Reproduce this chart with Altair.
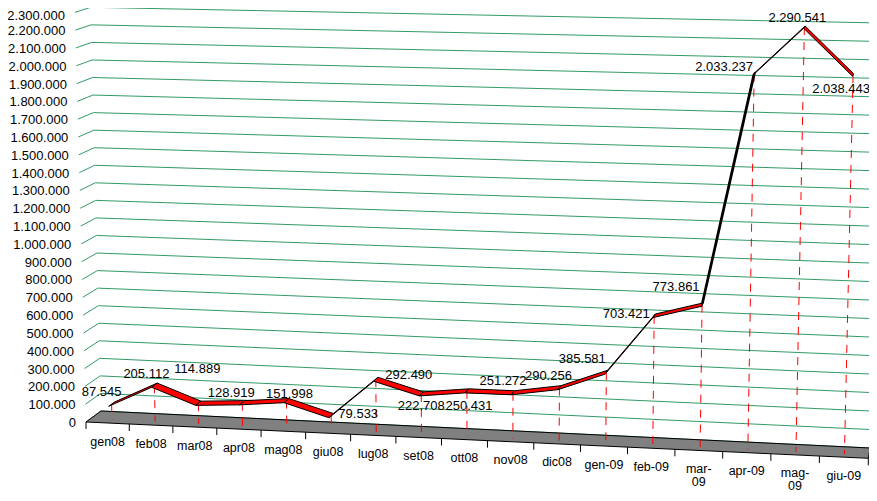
import altair as alt
import pandas as pd

# ---------------- data ----------------
months = ["gen08", "feb08", "mar08", "apr08", "mag08", "giu08", "lug08", "set08",
          "ott08", "nov08", "dic08", "gen-09", "feb-09", "mar-09", "apr-09", "mag-09", "giu-09"]
values = [87545, 205112, 114889, 128919, 151998, 79533, 292490, 222708,
          250431, 251272, 290256, 385581, 703421, 773861, 2033237, 2290541, 2038443]
y_ticks = [0, 100000, 200000, 300000, 400000, 500000, 600000, 700000, 800000, 900000,
           1000000, 1100000, 1200000, 1300000, 1400000, 1500000, 1600000, 1700000,
           1800000, 1900000, 2000000, 2100000, 2200000, 2300000]

# label nudges in pixels (style: where Excel put each data label relative to its point)
label_dx = [-10, -8, -1, -11, 3, 27, 33, 0, 2, -10, -11, -24, -28, -26, -30, -7, -12]
label_dy = [-12, -11, -34, -10, -7, -2, -4, 12, 15, -12, -12, -13, -2, -18, -7, -9, 14]

# ---------------- 3-D camera (style) ----------------
N = len(months)
VMAX = y_ticks[-1]
FRONT_BOT = ((86, 422), (868.3, 458.3))
BACK_BOT = ((101, 411), (870, 448))
BACK_TOP = ((90.7, 7.3), (881, 23))
FRONT_TOP = ((75, 12.3), (878.5, 28.5))
WARP = 0.937
Z_BACK, Z_MID, Z_FRONT = 0.5, 0.7, 0.9

ORIGIN = 8
W, H = 861, 485
X0, PX_PER_CAT = 86.0, 46.02
Y0, PX_PER_VAL = 422.0, 409.7 / VMAX


def project(u, v, z):
    t = u / N
    p = WARP * t / (1 - (1 - WARP) * t)
    w = v / VMAX

    def edge(e):
        (x0, y0), (x1, y1) = e
        return x0 + (x1 - x0) * p, y0 + (y1 - y0) * p

    fb, bb, bt, ft = edge(FRONT_BOT), edge(BACK_BOT), edge(BACK_TOP), edge(FRONT_TOP)
    bot = (bb[0] + (fb[0] - bb[0]) * z, bb[1] + (fb[1] - bb[1]) * z)
    top = (bt[0] + (ft[0] - bt[0]) * z, bt[1] + (ft[1] - bt[1]) * z)
    return bot[0] + (top[0] - bot[0]) * w, bot[1] + (top[1] - bot[1]) * w


def to_units(X, Y):
    return (X - X0) / PX_PER_CAT, (Y0 - Y) / PX_PER_VAL


def pt(u, v, z, dx=0.0, dy=0.0):
    X, Y = project(u, v, z)
    return to_units(X + dx, Y + dy)


xs = alt.Scale(domain=[(ORIGIN - X0) / PX_PER_CAT, (ORIGIN + W - X0) / PX_PER_CAT], nice=False, zero=False)
ys = alt.Scale(domain=[(Y0 - (ORIGIN + H)) / PX_PER_VAL, (Y0 - ORIGIN) / PX_PER_VAL], nice=False, zero=False)
X = lambda f="x": alt.X(f"{f}:Q", scale=xs, axis=None)
Y = lambda f="y": alt.Y(f"{f}:Q", scale=ys, axis=None)

FONT = "Liberation Sans"

# gridlines: side wall segment + back wall
grid_rows = []
for g, v in enumerate(y_ticks):
    for k, (u, z) in enumerate([(0, 1), (0, 0), (N, 0)]):
        x, y = pt(u, v, z)
        grid_rows.append({"g": g, "k": k, "x": x, "y": y})
grid = alt.Chart(pd.DataFrame(grid_rows)).mark_line(color="#339966", strokeWidth=1).encode(
    x=X(), y=Y(), detail="g:N", order="k:Q")

# floor
floor_rows = []
for k, (u, z) in enumerate([(0, 1), (N, 1), (N, 0), (0, 0), (0, 1)]):
    x, y = pt(u, 0, z)
    floor_rows.append({"k": k, "x": x, "y": y})
floor = alt.Chart(pd.DataFrame(floor_rows)).mark_line(
    fill="#808080", stroke="#000000", strokeWidth=1, strokeJoin="miter").encode(
    x=X(), y=Y(), order="k:Q")

# category tick marks below the floor front edge
tick_rows = []
for u in range(N + 1):
    x, y = pt(u, 0, 1)
    _, y2 = pt(u, 0, 1, 0, 7)
    tick_rows.append({"x": x, "y": y, "y2": y2})
ticks = alt.Chart(pd.DataFrame(tick_rows)).mark_rule(color="#000000", strokeWidth=1).encode(
    x=X(), y=Y(), y2=alt.Y2("y2:Q"))

# drop lines
drop_rows = []
for i, v in enumerate(values):
    x, y = pt(i + 0.5, v, Z_MID)
    x2, y2 = pt(i + 0.5, 0, Z_MID)
    drop_rows.append({"x": x, "y": y, "x2": x2, "y2": y2})
drops = alt.Chart(pd.DataFrame(drop_rows)).mark_rule(
    color="#ff0000", strokeWidth=1, strokeDash=[8, 7]).encode(
    x=X(), y=Y(), x2=alt.X2("x2:Q"), y2=alt.Y2("y2:Q"))

# ribbon segments
rib_rows = []
for i in range(N - 1):
    b0 = project(i + 0.5, values[i], Z_BACK)
    b1 = project(i + 1.5, values[i + 1], Z_BACK)
    f1 = project(i + 1.5, values[i + 1], Z_FRONT)
    f0 = project(i + 0.5, values[i], Z_FRONT)
    d = (b1[0] - b0[0], b1[1] - b0[1])
    o = (f0[0] - b0[0], f0[1] - b0[1])
    face = "front" if d[0] * o[1] - d[1] * o[0] > 0 else "back"
    for k, P in enumerate([b0, b1, f1, f0, b0]):
        x, y = to_units(*P)
        rib_rows.append({"s": i, "k": k, "x": x, "y": y, "face": face})
rib_df = pd.DataFrame(rib_rows)
rib_front = alt.Chart(rib_df).transform_filter(alt.datum.face == "front").mark_line(
    fill="#ff0000", stroke="#000000", strokeWidth=1, strokeJoin="round").encode(
    x=X(), y=Y(), detail="s:N", order="k:Q")
rib_back = alt.Chart(rib_df).transform_filter(alt.datum.face == "back").mark_line(
    fill="#000000", stroke="#000000", strokeWidth=1.6, strokeJoin="round").encode(
    x=X(), y=Y(), detail="s:N", order="k:Q")

# value labels
def fmt(v):
    return f"{v:,}".replace(",", ".")

lab_rows = []
for i, v in enumerate(values):
    x, y = pt(i + 0.5, v, Z_MID, label_dx[i], label_dy[i])
    lab_rows.append({"x": x, "y": y, "t": fmt(v)})
vlabels = alt.Chart(pd.DataFrame(lab_rows)).mark_text(
    font=FONT, fontSize=13, color="#000000", align="center", baseline="middle").encode(
    x=X(), y=Y(), text="t:N")

# y-axis labels on the side wall (kept inside the top edge)
yl_rows = []
for v in y_ticks:
    Xp, Yp = project(0, v, 1)
    x, y = to_units(Xp, max(Yp + 1, ORIGIN + 7.5))
    yl_rows.append({"x": x, "y": y, "t": fmt(v)})
ylabels = alt.Chart(pd.DataFrame(yl_rows)).mark_text(
    font=FONT, fontSize=13, color="#000000", align="right", baseline="middle", dx=-10).encode(
    x=X(), y=Y(), text="t:N")

# category labels (long ones wrap like Excel)
cl_rows = []
for i, m in enumerate(months):
    x, y = pt(i + 0.5, 0, 1)
    txt = m.replace("-", "-\n") if len(m) == 6 and m[:3] in ("mar", "mag") else m
    cl_rows.append({"x": x, "y": y, "t": txt})
clabels = alt.Chart(pd.DataFrame(cl_rows)).mark_text(
    font=FONT, fontSize=12.5, color="#000000", align="center", baseline="top", dy=12.5,
    lineHeight=13, lineBreak="\n").encode(x=X(), y=Y(), text="t:N")

chart = alt.layer(grid, floor, ticks, drops, rib_back, rib_front, vlabels, ylabels, clabels).properties(
    width=W, height=H, padding=0, autosize=alt.AutoSizeParams(type="none"),
    background="#ffffff").configure_view(stroke=None)

chart.save("out.html", embed_options={"renderer": "svg", "actions": False})
